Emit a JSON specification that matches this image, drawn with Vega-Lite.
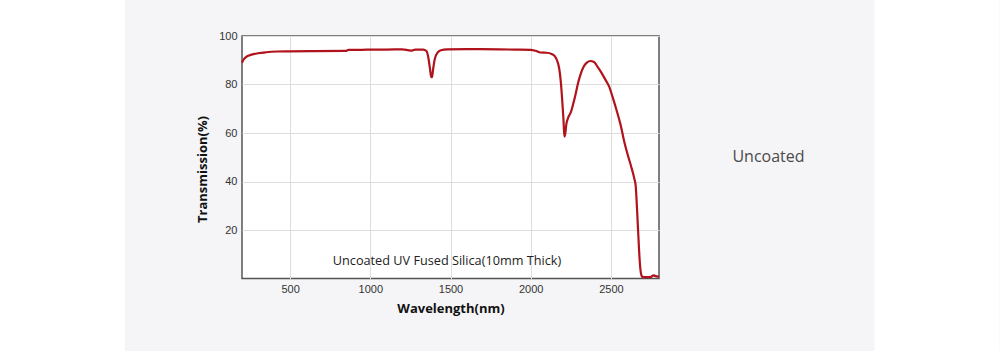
{
  "$schema": "https://vega.github.io/schema/vega-lite/v6.json",
  "background": "#f5f5f7",
  "padding": 0,
  "spacing": 63.5,
  "config": {"view": {"stroke": null}, "font": "Open Sans"},
  "datasets": {
    "curve": [
      {"wavelength": 200, "transmission": 89.0},
      {"wavelength": 210, "transmission": 90.3},
      {"wavelength": 225, "transmission": 91.3},
      {"wavelength": 245, "transmission": 92.0},
      {"wavelength": 270, "transmission": 92.5},
      {"wavelength": 300, "transmission": 92.9},
      {"wavelength": 350, "transmission": 93.3},
      {"wavelength": 420, "transmission": 93.6},
      {"wavelength": 500, "transmission": 93.7},
      {"wavelength": 650, "transmission": 93.8},
      {"wavelength": 850, "transmission": 93.9},
      {"wavelength": 865, "transmission": 94.3},
      {"wavelength": 950, "transmission": 94.3},
      {"wavelength": 1000, "transmission": 94.4},
      {"wavelength": 1100, "transmission": 94.4},
      {"wavelength": 1200, "transmission": 94.5},
      {"wavelength": 1240, "transmission": 94.1},
      {"wavelength": 1260, "transmission": 94.0},
      {"wavelength": 1280, "transmission": 94.4},
      {"wavelength": 1330, "transmission": 94.4},
      {"wavelength": 1350, "transmission": 93.8},
      {"wavelength": 1362, "transmission": 91.0},
      {"wavelength": 1372, "transmission": 86.5},
      {"wavelength": 1380, "transmission": 83.0},
      {"wavelength": 1385, "transmission": 83.2},
      {"wavelength": 1392, "transmission": 86.5},
      {"wavelength": 1402, "transmission": 90.5},
      {"wavelength": 1420, "transmission": 93.2},
      {"wavelength": 1440, "transmission": 94.1},
      {"wavelength": 1480, "transmission": 94.5},
      {"wavelength": 1600, "transmission": 94.6},
      {"wavelength": 1800, "transmission": 94.5},
      {"wavelength": 1900, "transmission": 94.4},
      {"wavelength": 2000, "transmission": 94.3},
      {"wavelength": 2030, "transmission": 93.9},
      {"wavelength": 2060, "transmission": 93.2},
      {"wavelength": 2100, "transmission": 93.1},
      {"wavelength": 2130, "transmission": 92.6},
      {"wavelength": 2150, "transmission": 91.7},
      {"wavelength": 2165, "transmission": 89.8},
      {"wavelength": 2178, "transmission": 86.5},
      {"wavelength": 2188, "transmission": 81.0},
      {"wavelength": 2196, "transmission": 74.0},
      {"wavelength": 2204, "transmission": 66.0},
      {"wavelength": 2210, "transmission": 58.5},
      {"wavelength": 2215, "transmission": 59.5},
      {"wavelength": 2222, "transmission": 63.5},
      {"wavelength": 2235, "transmission": 66.5},
      {"wavelength": 2250, "transmission": 68.5},
      {"wavelength": 2265, "transmission": 72.0},
      {"wavelength": 2280, "transmission": 76.0},
      {"wavelength": 2295, "transmission": 80.5},
      {"wavelength": 2310, "transmission": 84.0},
      {"wavelength": 2330, "transmission": 87.3},
      {"wavelength": 2350, "transmission": 89.0},
      {"wavelength": 2372, "transmission": 89.7},
      {"wavelength": 2395, "transmission": 89.3},
      {"wavelength": 2415, "transmission": 87.5},
      {"wavelength": 2440, "transmission": 85.0},
      {"wavelength": 2470, "transmission": 81.5},
      {"wavelength": 2490, "transmission": 79.0},
      {"wavelength": 2510, "transmission": 75.0},
      {"wavelength": 2535, "transmission": 69.5},
      {"wavelength": 2560, "transmission": 63.5},
      {"wavelength": 2585, "transmission": 56.0},
      {"wavelength": 2605, "transmission": 51.0},
      {"wavelength": 2625, "transmission": 46.5},
      {"wavelength": 2645, "transmission": 41.5},
      {"wavelength": 2655, "transmission": 38.0},
      {"wavelength": 2662, "transmission": 30.0},
      {"wavelength": 2668, "transmission": 22.0},
      {"wavelength": 2674, "transmission": 14.0},
      {"wavelength": 2680, "transmission": 7.0},
      {"wavelength": 2688, "transmission": 2.0},
      {"wavelength": 2697, "transmission": 0.7},
      {"wavelength": 2720, "transmission": 0.6},
      {"wavelength": 2750, "transmission": 0.7},
      {"wavelength": 2765, "transmission": 1.3},
      {"wavelength": 2775, "transmission": 1.1},
      {"wavelength": 2800, "transmission": 0.7}
    ]
  },
  "hconcat": [
    {
      "spacing": 70,
      "hconcat": [
        {
          "width": 125,
          "height": 351,
          "view": {"fill": "white", "stroke": null},
          "data": {"values": []},
          "mark": "text",
          "encoding": {}
        },
        {
          "spacing": 28,
          "vconcat": [
            {
              "width": 417,
              "height": 1,
              "data": {"values": []},
              "mark": "text",
              "encoding": {}
            },
            {
              "width": 417,
              "height": 242.5,
              "view": {"fill": "white", "stroke": "#555555", "strokeWidth": 1.5},
              "layer": [
                {
                  "data": {"name": "curve"},
                  "mark": {"type": "line", "color": "#b0131b", "strokeWidth": 2.2, "interpolate": "monotone"},
                  "encoding": {
                    "x": {
                      "field": "wavelength",
                      "type": "quantitative",
                      "scale": {"domain": [200, 2800], "nice": false, "zero": false},
                      "axis": {
                        "values": [500, 1000, 1500, 2000, 2500],
                        "format": "d",
                        "grid": true,
                        "gridColor": "#dedede",
                        "ticks": false,
                        "domain": false,
                        "labelFont": "Liberation Sans",
                        "labelFontSize": 11,
                        "labelColor": "#333333",
                        "labelPadding": 5,
                        "title": "Wavelength(nm)",
                        "titleFont": "Open Sans",
                        "titleFontWeight": "bold",
                        "titleFontSize": 13,
                        "titleColor": "#111111",
                        "titlePadding": 8
                      }
                    },
                    "y": {
                      "field": "transmission",
                      "type": "quantitative",
                      "scale": {"domain": [0, 100], "nice": false},
                      "axis": {
                        "values": [20, 40, 60, 80, 100],
                        "format": "d",
                        "grid": true,
                        "gridColor": "#dedede",
                        "ticks": false,
                        "domain": false,
                        "labelFont": "Liberation Sans",
                        "labelFontSize": 11,
                        "labelColor": "#333333",
                        "labelPadding": 5,
                        "title": "Transmission(%)",
                        "titleFont": "Open Sans",
                        "titleFontWeight": "bold",
                        "titleFontSize": 13,
                        "titleColor": "#111111",
                        "titlePadding": 9,
                        "titleY": 133
                      }
                    }
                  }
                },
                {
                  "data": {"values": [{"label": "Uncoated UV Fused Silica(10mm Thick)"}]},
                  "mark": {"type": "text", "font": "Open Sans", "fontSize": 12.7, "color": "#222222", "align": "center", "baseline": "middle"},
                  "encoding": {
                    "text": {"field": "label"},
                    "x": {"datum": 1478, "type": "quantitative"},
                    "y": {"datum": 7.3, "type": "quantitative"}
                  }
                }
              ]
            }
          ]
        }
      ]
    },
    {
      "spacing": 66,
      "hconcat": [
        {
          "width": 80,
          "height": 314,
          "data": {"values": [{"label": "Uncoated"}]},
          "mark": {"type": "text", "font": "Open Sans", "fontSize": 16, "color": "#4a4a4a", "align": "center", "baseline": "middle"},
          "encoding": {"text": {"field": "label"}}
        },
        {
          "width": 125,
          "height": 351,
          "view": {"fill": "white", "stroke": null},
          "data": {"values": []},
          "mark": "text",
          "encoding": {}
        }
      ]
    }
  ]
}
